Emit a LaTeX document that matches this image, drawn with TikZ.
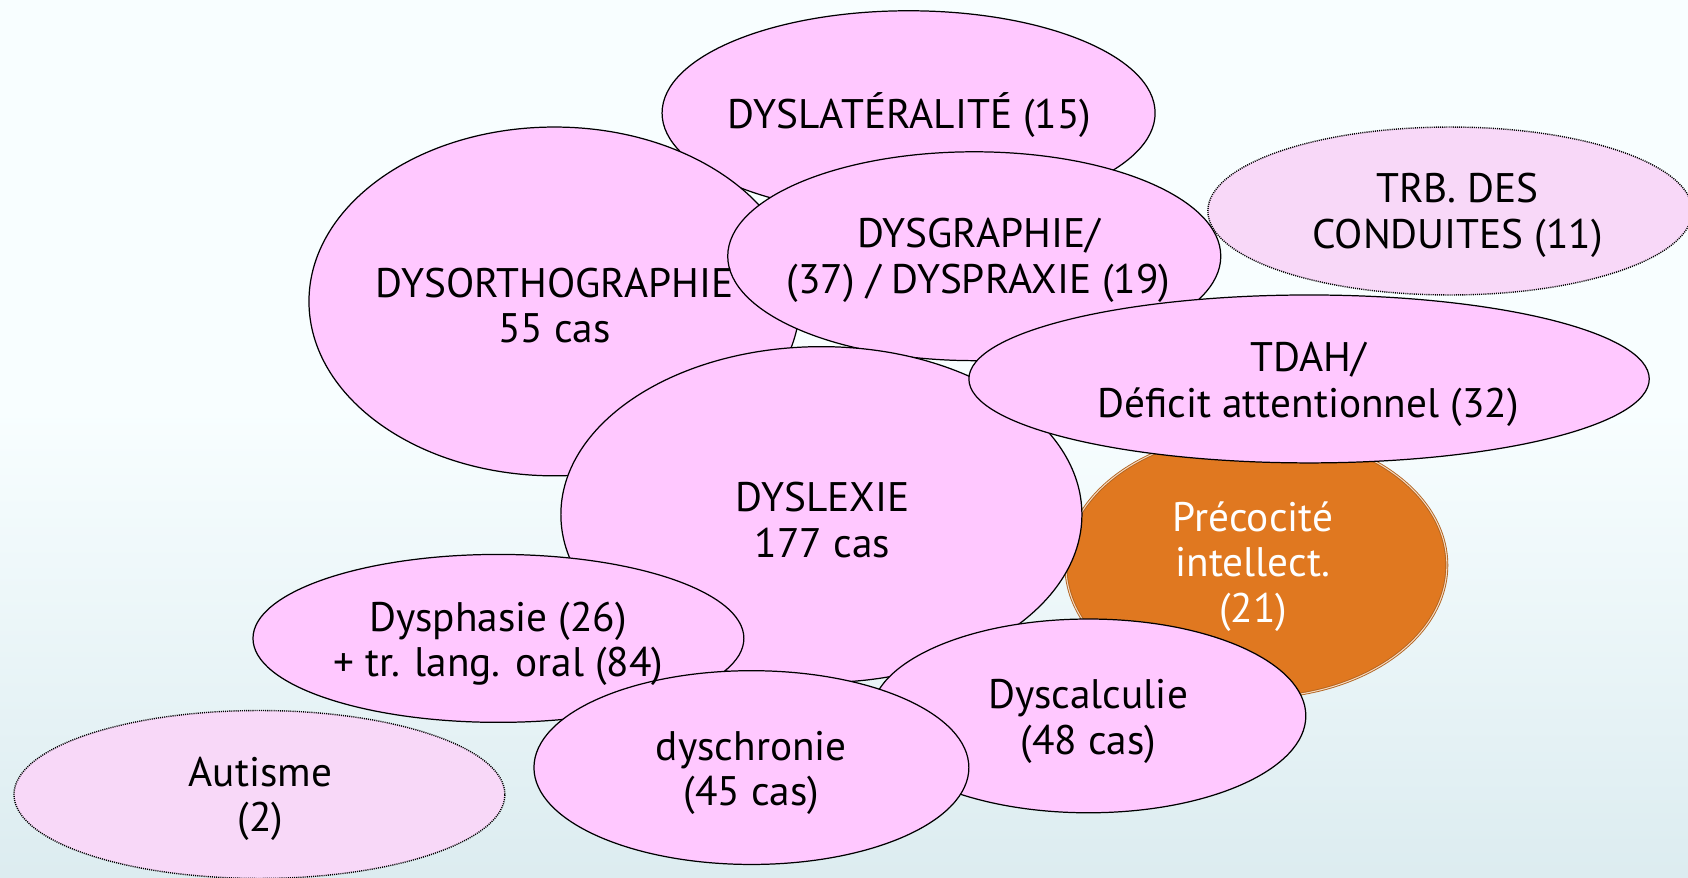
\documentclass[tikz,border=0pt]{standalone}
\usepackage{fontspec}
\setmainfont{PT Sans}
\usetikzlibrary{shapes.geometric}
\definecolor{blobpink}{HTML}{FFC8FF}
\definecolor{softpink}{HTML}{F8D8F8}
\definecolor{precorange}{HTML}{E07820}
\definecolor{precedge}{HTML}{B0621E}
\definecolor{bgtop}{HTML}{F8FEFF}
\definecolor{bgbot}{HTML}{DCECF0}
\newcommand\pxu{0.021531cm}
\begin{document}
\begin{tikzpicture}[x=\pxu, y=-\pxu,
  blob/.style 2 args={ellipse, inner sep=0pt,
    minimum width={2*#1*\pxu}, minimum height={2*#2*\pxu},
    fill=blobpink, draw=black, line width=0.7pt},
  softblob/.style 2 args={blob={#1}{#2}, fill=softpink, draw=black,
    line width=0.8pt, dash pattern=on 0.6pt off 0.6pt},
  precblob/.style 2 args={blob={#1}{#2}, fill=precorange, draw=precedge,
    line width=0.5pt, double=white!70!precorange, double distance=0.6pt},
  lbl/.style={align=center, inner sep=0pt, text=black,
    font=\fontsize{23.5}{25.9}\selectfont}]

% background: pale at the top, light blue towards the bottom
\fill[bgtop] (0,0) rectangle (1568,815);
\shade[top color=bgtop, bottom color=bgbot] (0,380) rectangle (1568,815);
\useasboundingbox (0,0) rectangle (1568,815);

% ellipses, back to front
\node[blob={229}{95}]  (dyslat)   at (844,105) {};
\node[blob={228}{162}] (dysortho) at (515,280) {};
\node[blob={229}{97}]  (dysgraph) at (905,238) {};
\node[precblob={177}{123}] (precoc) at (1167,525) {};
\node[blob={242}{156}] (dyslexie) at (763,478) {};
\node[softblob={225}{78}] (trb)   at (1347,196) {};
\node[blob={316}{78}]  (tdah)     at (1216,352) {};
\node[blob={228}{78}]  (dysphas)  at (463,593) {};
\node[blob={202}{90}]  (dyscalc)  at (1011,665) {};
\node[blob={202}{90}]  (dyschron) at (698,713) {};
\node[softblob={228}{78}] (autisme) at (241,738) {};

% labels
\node[lbl] (tdyslat)   at (845,107) {DYSLATÉRALITÉ (15)};
\node[lbl] (tdysortho) at (515,284) {DYSORTHOGRAPHIE\\55 cas};
\node[lbl] (tdysgraph) at (909,242) {DYSGRAPHIE/\\(37) / DYSPRAXIE (19)};
\node[lbl] (ttrb)      at (1354,200) {TRB. DES\\CONDUITES (11)};
\node[lbl] (ttdah)     at (1215,357) {TDAH/\\Déficit attentionnel (32)};
\node[lbl] (tdyslexie) at (764,483) {DYSLEXIE\\177 cas};
\node[lbl, text=white] (tprecoc) at (1164,526) {Précocité\\intellect.\\(21)};
\node[lbl] (tdysphas)  at (463,598) {Dysphasie (26)\\+ tr. lang. oral (84)};
\node[lbl] (tdyscalc)  at (1011,670) {Dyscalculie\\(48 cas)};
\node[lbl] (tdyschron) at (698,718) {dyschronie\\(45 cas)};
\node[lbl] (tautisme)  at (242,742) {Autisme\\(2)};
\end{tikzpicture}
\end{document}
